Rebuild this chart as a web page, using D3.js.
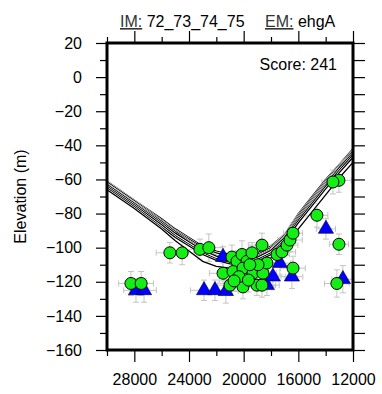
<!DOCTYPE html>
<html>
<head>
<meta charset="utf-8">
<script src="https://cdn.jsdelivr.net/npm/d3@7"></script>
<style>
  body { margin: 0; background: #fff; }
  svg text { font-family: "Liberation Sans", Helvetica, Arial, sans-serif; }
</style>
</head>
<body>
<div class="chart"></div>
<script>
// model curves, x = age-ish position, y = elevation (m)
let curveX = [30000, 28000, 26000, 25000, 24000, 23000, 22000, 21000, 20000, 19000, 18000, 17000, 16000, 15000, 14000, 13000, 12000];
let curve1 = [-61, -72, -83, -89, -94, -99, -102, -104, -105, -103, -99, -92, -80, -70, -60, -51, -42];
let curve2 = [-61.5, -72.5, -84, -90, -95, -100, -103, -105, -106, -104, -100, -92.5, -81, -71, -61, -51.5, -43];
let curve3 = [-62.5, -73.5, -84.5, -90.5, -96, -101, -104.5, -106, -107, -105, -101, -93.5, -82, -72, -62, -52.5, -43.5];
let curve4 = [-63, -74, -85.5, -91.5, -96.5, -101.5, -105, -107, -107.5, -105.5, -101.5, -94, -83, -73, -63, -53, -44.5];
let curve5 = [-64, -75, -86.5, -93, -98, -103, -106.5, -108.5, -109, -107, -103, -95.5, -84, -74, -64, -54.5, -45.5];
let curve6 = [-65, -76, -88, -94, -99, -104, -107.5, -109.5, -110, -108, -104, -96.5, -85.5, -75.5, -65.5, -56, -47];
let curve7 = [-66, -77, -89, -96, -102, -108, -111, -112, -112, -110, -106, -100, -89, -79, -69, -59, -50];
let curves = [curve1, curve2, curve3, curve4, curve5, curve6, curve7];

// green circles
let circleX = [28250, 27500, 25400, 24500, 23200, 22550, 20860, 20490, 20125, 19760, 19390, 18660,
    21510, 20780, 20050, 19170, 19320, 18590, 21000, 20050, 19030, 18660, 18300, 17560, 17200,
    16830, 16610, 16390, 16390, 14640, 13030, 13180, 13030, 13470,
    20350, 19650, 20700, 18950, 19550];
let circleY = [-121, -121, -103, -103, -101, -100, -105.5, -108, -104, -108, -103, -98.5,
    -115, -114, -112, -113, -115, -115, -122, -123, -122, -122, -109, -104, -102.5,
    -98.5, -95.5, -91.5, -112, -81, -98, -121, -60.5, -61.5,
    -117, -119, -119.5, -110, -110];
let circleXErr = [900, 900, 1000, 900, 1100, 1000, 1200, 1000, 1300, 1100, 1200, 1000,
    1000, 900, 1100, 1000, 900, 1000, 900, 1000, 900, 1000, 800, 900, 1000,
    800, 900, 700, 900, 800, 700, 900, 900, 800,
    1000, 900, 1100, 900, 1000];
let circleYErr = [7, 7, 6, 7, 6, 8, 7, 6, 8, 7, 6, 7,
    6, 7, 6, 7, 6, 7, 6, 7, 6, 7, 6, 7, 6,
    6, 7, 6, 7, 7, 6, 8, 7, 7,
    6, 7, 6, 7, 6];

// blue triangles
let triX = [27880, 27290, 22900, 22100, 21300, 21510, 18300, 17350, 17860, 16470, 13980, 12740];
let triY = [-125, -125, -125, -125, -125.5, -105.5, -122, -109, -117, -117, -89, -118.5];
let triXErr = [900, 900, 1000, 900, 900, 1000, 900, 800, 900, 800, 700, 800];
let triYErr = [7, 7, 6, 6, 7, 6, 6, 7, 6, 7, 6, 8];

// axis ticks
let xMajor = [28000, 24000, 20000, 16000, 12000];
let xMinor = [30000, 26000, 22000, 18000, 14000];
let yMajor = [20, 0, -20, -40, -60, -80, -100, -120, -140, -160];
let yMinor = [10, -10, -30, -50, -70, -90, -110, -130, -150];

let W = 382, H = 394;
let margin = {top: 43, right: 29, bottom: 44, left: 107};
let svg = d3.select('.chart').append('svg')
    .attr('width', W)
    .attr('height', H);

let x = d3.scaleLinear().domain([30000, 12000]).range([margin.left, W - margin.right]);
let y = d3.scaleLinear().domain([-160, 20]).range([H - margin.bottom, margin.top]);

let fmt = d3.format('d');

// axes
function styleAxis(g) {
    g.select('.domain').remove();
    g.selectAll('line').attr('stroke', '#000').attr('stroke-width', 1.2);
    g.selectAll('text').style('font-size', '16px').attr('fill', '#000');
}

svg.append('g')
    .attr('transform', 'translate(0,' + y.range()[0] + ')')
    .call(d3.axisBottom(x).tickValues(xMajor).tickSize(12).tickPadding(12).tickFormat(fmt))
    .call(styleAxis);
svg.append('g')
    .attr('transform', 'translate(0,' + y.range()[0] + ')')
    .call(d3.axisBottom(x).tickValues(xMinor).tickSize(6).tickFormat(''))
    .call(styleAxis);
svg.append('g')
    .attr('transform', 'translate(0,' + y.range()[1] + ')')
    .call(d3.axisTop(x).tickValues(xMajor).tickSize(12).tickFormat(''))
    .call(styleAxis);
svg.append('g')
    .attr('transform', 'translate(0,' + y.range()[1] + ')')
    .call(d3.axisTop(x).tickValues(xMinor).tickSize(6).tickFormat(''))
    .call(styleAxis);

svg.append('g')
    .attr('transform', 'translate(' + x.range()[0] + ',0)')
    .call(d3.axisLeft(y).tickValues(yMajor).tickSize(11).tickPadding(14).tickFormat(fmt))
    .call(styleAxis);
svg.append('g')
    .attr('transform', 'translate(' + x.range()[0] + ',0)')
    .call(d3.axisLeft(y).tickValues(yMinor).tickSize(7).tickFormat(''))
    .call(styleAxis);
svg.append('g')
    .attr('transform', 'translate(' + x.range()[1] + ',0)')
    .call(d3.axisRight(y).tickValues(yMajor.concat(yMinor)).tickSize(12).tickFormat(''))
    .call(styleAxis);

// error bars
let plot = svg.append('g');
function errorBars(xs, ys, xe, ye) {
    let g = plot.append('g')
        .attr('stroke', '#c4c4c4')
        .attr('stroke-width', 1)
        .attr('fill', 'none');
    xs.forEach((xv, i) => {
        let cx = x(xv), cy = y(ys[i]);
        let x0 = x(xv + xe[i]), x1 = x(xv - xe[i]);
        let y0 = y(ys[i] + ye[i]), y1 = y(ys[i] - ye[i]);
        g.append('line').attr('x1', x0).attr('x2', x1).attr('y1', cy).attr('y2', cy);
        g.append('line').attr('x1', x0).attr('x2', x0).attr('y1', cy - 3).attr('y2', cy + 3);
        g.append('line').attr('x1', x1).attr('x2', x1).attr('y1', cy - 3).attr('y2', cy + 3);
        g.append('line').attr('x1', cx).attr('x2', cx).attr('y1', y0).attr('y2', y1);
        g.append('line').attr('x1', cx - 3).attr('x2', cx + 3).attr('y1', y0).attr('y2', y0);
        g.append('line').attr('x1', cx - 3).attr('x2', cx + 3).attr('y1', y1).attr('y2', y1);
    });
}
errorBars(circleX, circleY, circleXErr, circleYErr);
errorBars(triX, triY, triXErr, triYErr);

// model curves
let line = d3.line()
    .x((d, i) => x(curveX[i]))
    .y(d => y(d));
curves.forEach(c => {
    plot.append('path')
        .attr('d', line(c))
        .attr('fill', 'none')
        .attr('stroke', '#fff')
        .attr('stroke-width', 2.4);
    plot.append('path')
        .attr('d', line(c))
        .attr('fill', 'none')
        .attr('stroke', '#000')
        .attr('stroke-width', 1.3);
});

// triangles
plot.selectAll('.tri')
    .data(triX)
    .enter().append('path')
    .attr('class', 'tri')
    .attr('d', d3.symbol().type(d3.symbolTriangle).size(100))
    .attr('transform', (d, i) => 'translate(' + x(d) + ',' + y(triY[i]) + ')')
    .attr('fill', '#0000ff')
    .attr('stroke', '#000033')
    .attr('stroke-width', 0.6);

// circles
plot.selectAll('.pt')
    .data(circleX)
    .enter().append('circle')
    .attr('class', 'pt')
    .attr('cx', d => x(d))
    .attr('cy', (d, i) => y(circleY[i]))
    .attr('r', 6)
    .attr('fill', '#14ee14')
    .attr('stroke', '#000')
    .attr('stroke-width', 1);

// frame
svg.append('rect')
    .attr('x', x.range()[0])
    .attr('y', y.range()[1])
    .attr('width', x.range()[1] - x.range()[0])
    .attr('height', y.range()[0] - y.range()[1])
    .attr('fill', 'none')
    .attr('stroke', '#000')
    .attr('stroke-width', 3);

// labels
svg.append('text')
    .attr('transform', 'translate(26,' + (margin.top + (H - margin.top - margin.bottom) / 2) + ') rotate(-90)')
    .style('text-anchor', 'middle')
    .style('font-size', '16px')
    .text('Elevation (m)');

svg.append('text')
    .attr('x', 337)
    .attr('y', 70)
    .style('text-anchor', 'end')
    .style('font-size', '16px')
    .text('Score: 241');

let title = svg.append('text')
    .attr('y', 27)
    .style('font-size', '16px');
title.append('tspan').attr('x', 120).attr('fill', '#333').style('text-decoration', 'underline').text('IM:');
title.append('tspan').text('\u00a072_73_74_75');
title.append('tspan').attr('x', 265).attr('fill', '#333').style('text-decoration', 'underline').text('EM:');
title.append('tspan').text('\u00a0ehgA');
</script>
</body>
</html>
